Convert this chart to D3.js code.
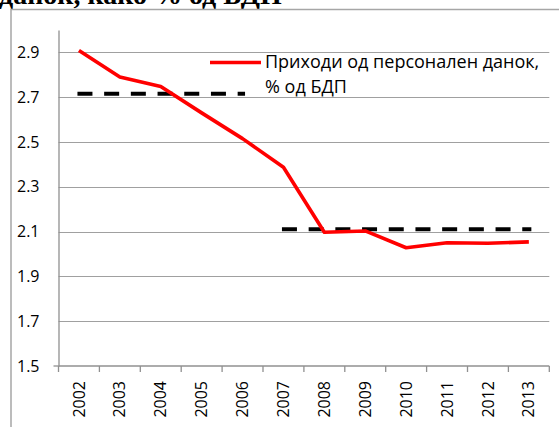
<!DOCTYPE html>
<html><head><meta charset="utf-8">
<script src="https://cdn.jsdelivr.net/npm/d3@7"></script>
<style>
html,body{margin:0;padding:0;background:#fff;}
svg{display:block;}
</style></head>
<body>
<svg id="c" width="559" height="427"></svg>
<script>
const years = ["2002","2003","2004","2005","2006","2007","2008","2009","2010","2011","2012","2013"];
const revenue = [2.908, 2.79, 2.748, 2.63, 2.515, 2.387, 2.097, 2.103, 2.028, 2.05, 2.048, 2.054];
const avgPeriods = [["2002","2006"],["2007","2013"]];
const avgValues = [2.715, 2.11];
const yTicks = [1.5, 1.7, 1.9, 2.1, 2.3, 2.5, 2.7, 2.9];
const legendLines = ["Приходи од персонален данок,", "% од БДП"];
const titleText = "данок, како % од БДП";

(function () {
const svg = d3.select("#c");
const mL = 58.5, mR = 549.3, mT = 30, mB = 366;
const font = "'Open Sans', sans-serif";

const x = d3.scaleBand().domain(years).range([mL, mR]);
const y = d3.scaleLinear().domain([1.5, 3.0]).range([mB, mT]);

// title (cropped at the top, as in the reference)
svg.append("text").attr("x", -1).attr("y", 3.5)
  .attr("font-family", "'Liberation Serif', serif").attr("font-weight", "bold")
  .attr("font-size", 28).attr("fill", "#000").text(titleText);

// chart border
svg.append("path").attr("d", "M11,440 V9.5 H570")
  .attr("fill", "none").attr("stroke", "#a6a6a6").attr("stroke-width", 1.5);

// gridlines
svg.append("g").selectAll("line").data(yTicks.slice(1)).join("line")
  .attr("x1", mL).attr("x2", mR)
  .attr("y1", d => Math.round(y(d)) + 0.5).attr("y2", d => Math.round(y(d)) + 0.5)
  .attr("stroke", "#a0a0a0").attr("stroke-width", 1);

// y axis
const ya = svg.append("g").attr("transform", `translate(${mL},0)`)
  .call(d3.axisLeft(y).tickValues(yTicks).tickSize(0).tickPadding(0).tickFormat(d3.format(".1f")));
ya.select(".domain").attr("stroke", "#909090").attr("stroke-width", 1.3);
ya.selectAll("text").attr("x", -19).attr("font-family", font).attr("font-size", 16).attr("fill", "#000");
svg.append("line").attr("x1", mL - 5).attr("x2", mL).attr("y1", y(1.5)).attr("y2", y(1.5))
  .attr("stroke", "#909090").attr("stroke-width", 1.3);

// x axis
const xa = svg.append("g").attr("transform", `translate(0,${mB})`)
  .call(d3.axisBottom(x).tickSize(0).tickPadding(0));
xa.select(".domain").remove();
svg.append("line").attr("x1", mL).attr("x2", mR).attr("y1", mB).attr("y2", mB)
  .attr("stroke", "#909090").attr("stroke-width", 1.3);
const edges = years.map(d => x(d)).concat([mR]);
svg.append("g").selectAll("line").data(edges).join("line")
  .attr("x1", d => d).attr("x2", d => d).attr("y1", mB).attr("y2", mB + 6)
  .attr("stroke", "#909090").attr("stroke-width", 1.3);
xa.selectAll("text")
  .attr("font-family", font).attr("font-size", 16).attr("fill", "#000")
  .attr("text-anchor", "end").attr("dy", "0.35em")
  .attr("transform", "translate(0,15) rotate(-90)");

const cx = d => x(d) + x.bandwidth() / 2;

// average dashed lines
svg.append("g").selectAll("line").data(avgPeriods).join("line")
  .attr("x1", (d) => cx(d[0]) - 1.5).attr("x2", d => cx(d[1]) + 2.5)
  .attr("y1", (d, i) => y(avgValues[i])).attr("y2", (d, i) => y(avgValues[i]))
  .attr("stroke", "#000").attr("stroke-width", 4).attr("stroke-dasharray", "15,11.7");

// revenue line
svg.append("path").datum(revenue)
  .attr("d", d3.line().x((d, i) => cx(years[i])).y(d => y(d)))
  .attr("fill", "none").attr("stroke", "#ff0000").attr("stroke-width", 3.6)
  .attr("stroke-linejoin", "round");

// legend
svg.append("line").attr("x1", 210).attr("x2", 261).attr("y1", 62.5).attr("y2", 62.5)
  .attr("stroke", "#ff0000").attr("stroke-width", 3.6);
svg.append("g").selectAll("text").data(legendLines).join("text")
  .attr("x", 265).attr("y", (d, i) => 62 + i * 25).attr("dy", "0.35em")
  .attr("font-family", font).attr("font-size", 18).attr("fill", "#000").text(d => d);
})();
</script>
</body></html>
